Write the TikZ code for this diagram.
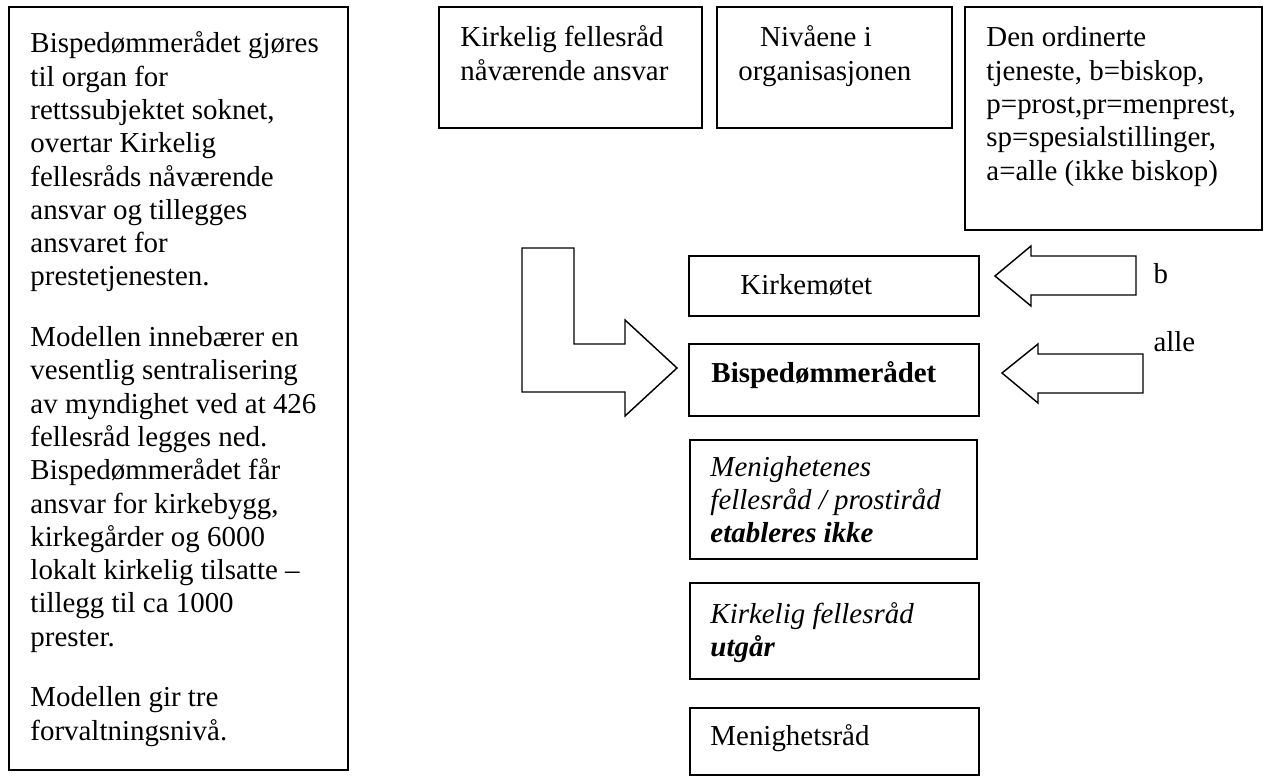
\documentclass[tikz,border=0pt]{standalone}
\usepackage{fontspec}
\setmainfont{Liberation Serif}
\usepackage{tikz}
\usetikzlibrary{positioning}

\tikzset{
  box/.style={draw, line width=0.8pt},
  blockarrow/.style={draw, line width=0.6pt, line join=miter},
  txt/.style={anchor=base west, inner sep=0pt, font=\fontsize{12}{13.8}\selectfont},
}
\newcommand{\lines}[1]{\begin{tabular}[t]{@{}l@{}}#1\end{tabular}}

\begin{document}
\begin{tikzpicture}[x=0.415pt, y=-0.415pt]
            \useasboundingbox (0,0) rectangle (1264,776);

            % Left text column
            \draw[box] (9,7) rectangle (348,770);
            \node[txt] (leftnote) at (30,53) {\lines{Bispedømmerådet gjøres\\ til organ for\\ rettssubjektet soknet,\\ overtar Kirkelig\\ fellesråds nåværende\\ ansvar og tillegges\\ ansvaret for\\ prestetjenesten.\\[11.5pt]
              Modellen innebærer en\\ vesentlig sentralisering\\ av myndighet ved at 426\\ fellesråd legges ned.\\ Bispedømmerådet får\\ ansvar for kirkebygg,\\ kirkegårder og 6000\\ lokalt kirkelig tilsatte –\\ tillegg til ca 1000\\ prester.\\[11.5pt]
              Modellen gir tre\\ forvaltningsnivå.}};

            % Headings at the top
            \draw[box] (439,7) rectangle (702,128);
            \node[txt] (curresp) at (460,47) {\lines{Kirkelig fellesråd\\ nåværende ansvar}};

            \draw[box] (717,7) rectangle (952,128);
            \node[txt] (levels) at (738,47) {\lines{\hspace*{9pt}Nivåene i\\ organisasjonen}};

            \draw[box] (965,7) rectangle (1262,230);
            \node[txt] (ordained) at (986,47) {\lines{Den ordinerte\\ tjeneste, b=biskop,\\ p=prost,pr=menprest,\\ sp=spesialstillinger,\\ a=alle (ikke biskop)}};

            % The levels
            \draw[box] (689,256) rectangle (979,316);
            \node[txt] (kirkemotet) at (740,294) {Kirkemøtet};

            \draw[box] (689,344) rectangle (979,416);
            \node[txt] (bdr) at (711,382) {\bfseries Bispedømmerådet};

            \draw[box] (690,440) rectangle (977,559);
            \node[txt] (menfr) at (710,476) {\lines{\itshape Menighetenes\\ \itshape fellesråd / prostiråd\\ \bfseries\itshape etableres ikke}};

            \draw[box] (690,583) rectangle (979,679);
            \node[txt] (kfr) at (710,623) {\lines{\itshape Kirkelig fellesråd\\ \bfseries\itshape utgår}};

            \draw[box] (690,708) rectangle (979,775);
            \node[txt] (menrad) at (710,745) {Menighetsråd};

            % Block arrows
            \draw[blockarrow] (522,248) -- (574,248) -- (574,344) -- (625,344) -- (625,320)
              -- (677,368) -- (625,416) -- (625,392) -- (522,392) -- cycle;

            \draw[blockarrow] (995,276) -- (1031,246) -- (1031,256) -- (1136,256)
              -- (1136,295) -- (1031,295) -- (1031,306) -- cycle;
            \node[txt] (lblb) at (1153,283) {b};

            \draw[blockarrow] (1002,373) -- (1038,344) -- (1038,354) -- (1143,354)
              -- (1143,393) -- (1038,393) -- (1038,403) -- cycle;
            \node[txt] (lblalle) at (1153,351) {alle};
\end{tikzpicture}
\end{document}
